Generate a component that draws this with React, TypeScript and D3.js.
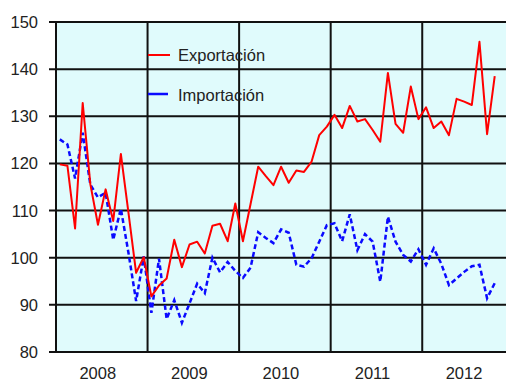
import React from "react";
import * as d3 from "d3";

// Monthly index values, January 2008 onward
const years = ["2008", "2009", "2010", "2011", "2012"];
const yTicks = [80, 90, 100, 110, 120, 130, 140, 150];

const exportacion = [
  119.8, 119.5, 106.2, 132.8, 115.6, 107.0, 114.5, 107.8, 122.0, 109.5, 96.8, 100.1,
  91.8, 94.1, 95.6, 103.8, 98.0, 102.8, 103.4, 100.9, 106.8, 107.2, 103.5, 111.5,
  103.5, 111.4, 119.3, 117.3, 115.4, 119.3, 115.9, 118.5, 118.2, 120.4, 126.0, 127.8,
  130.3, 127.5, 132.2, 128.9, 129.4, 127.1, 124.6, 139.2, 128.4, 126.5, 136.3, 129.4,
  131.9, 127.5, 128.9, 126.0, 133.7, 133.1, 132.4, 145.8, 126.2, 138.5,
];

const importacion = [
  125.1, 124.0, 116.8, 126.5, 115.5, 112.8, 113.8, 103.8, 110.4, 101.0, 90.8, 100.3,
  88.3, 99.8, 87.0, 91.0, 86.2, 90.3, 94.5, 92.5, 100.0, 96.9, 99.1, 97.2,
  95.7, 97.9, 105.4, 104.2, 103.1, 106.0, 105.3, 98.5, 98.1, 99.9, 103.4, 106.9,
  107.3, 103.5, 109.2, 101.6, 105.0, 103.4, 94.9, 108.7, 103.4, 100.6, 99.2, 101.8,
  98.5, 102.0, 98.7, 94.2, 95.6, 97.0, 98.2, 98.5, 91.4, 94.6,
];

const seriesNames = ["Exportación", "Importación"];

const W = 506;
const H = 380;
const left = 56;
const top = 22;
const bottom = 352;
const monthW = 7.63;

// one band per month, twelve per year
const months = years.flatMap((y) => d3.range(12).map((m) => `${y}-${m + 1}`));

export default function App() {
  const x = d3
    .scaleBand<string>()
    .domain(months)
    .range([left, left + months.length * monthW])
    .padding(0);
  const y = d3.scaleLinear().domain([80, 150]).range([bottom, top]);

  const cx = (i: number) => (x(months[i]) as number) + x.bandwidth() / 2;
  const line = d3
    .line<number>()
    .x((_, i) => cx(i))
    .y((d) => y(d));

  const right = left + months.length * monthW;
  const font = "'Liberation Sans', Arial, sans-serif";
  const textColor = "#222";

  return (
    <svg
      width={W}
      height={H}
      style={{ position: "absolute", left: 0, top: 0, background: "#fff" }}
    >
      <rect x={left} y={top} width={right - left} height={bottom - top} fill="#e0fbfc" />

      {yTicks.map((t) => (
        <g key={t}>
          <line x1={left - 7} x2={right} y1={y(t)} y2={y(t)} stroke="#111" strokeWidth={2} />
          <text
            x={38}
            y={y(t) + 6}
            textAnchor="end"
            fontFamily={font}
            fontSize={16.5}
            fill={textColor}
          >
            {t}
          </text>
        </g>
      ))}

      {years.map((yr) => {
        const x0 = x(`${yr}-1`) as number;
        return (
          <g key={yr}>
            <line x1={x0} x2={x0} y1={top} y2={bottom} stroke="#111" strokeWidth={2} />
            <text
              x={x0 + (12 * monthW) / 2 - 4}
              y={378.5}
              textAnchor="middle"
              fontFamily={font}
              fontSize={16.5}
              fill={textColor}
            >
              {yr}
            </text>
          </g>
        );
      })}

      <path d={line(importacion) ?? ""} fill="none" stroke="#0a0aff" strokeWidth={2.5} strokeDasharray="5,3" />
      <path d={line(exportacion) ?? ""} fill="none" stroke="#ff0000" strokeWidth={2} strokeLinejoin="round" />

      {/* legend */}
      <line x1={148} x2={170} y1={55} y2={55} stroke="#ff0000" strokeWidth={2} />
      <text x={178} y={61} fontFamily={font} fontSize={16.5} fill={textColor}>
        {seriesNames[0]}
      </text>
      <line x1={148} x2={168} y1={94} y2={94} stroke="#0a0aff" strokeWidth={2.5} />
      <text x={178} y={101} fontFamily={font} fontSize={16.5} fill={textColor}>
        {seriesNames[1]}
      </text>
    </svg>
  );
}
